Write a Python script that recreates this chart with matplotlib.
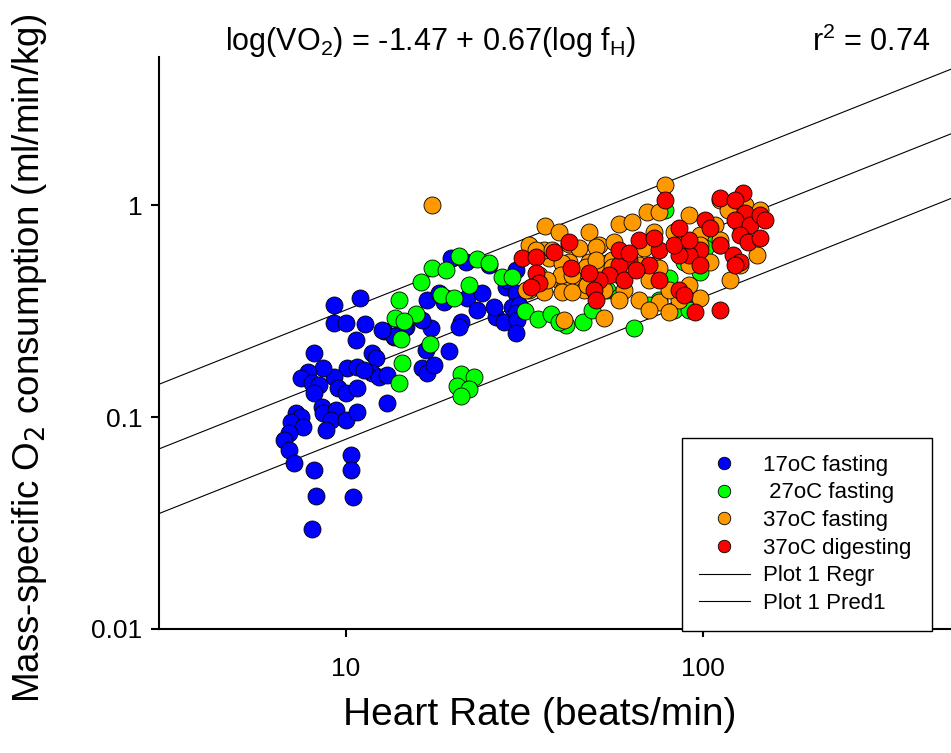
import matplotlib
matplotlib.use("Agg")
import matplotlib.pyplot as plt
from matplotlib.lines import Line2D
import numpy as np

plt.rcParams['font.family'] = ['Liberation Sans', 'DejaVu Sans']

# ---- data ----
blue_x = [9.26, 10.95, 9.26, 10.0, 11.3, 10.67, 8.13, 12.78, 13.64, 14.36, 14.75, 16.9, 18.24, 19.1,
          17.33, 16.79, 19.45, 21.04, 20.77, 21.88, 23.33, 24.1, 19.72, 21.73, 25.23, 26.38, 27.8, 28.14,
          11.83, 12.14, 11.83, 12.38, 13.03, 10.07, 10.74, 11.23, 9.26, 8.67, 7.87, 7.52, 8.03, 8.40,
          8.13, 9.55, 10.0, 10.74, 16.35, 16.9, 17.66, 13.03, 7.24, 7.52, 7.05, 7.62, 6.92, 6.70, 6.92,
          7.15, 8.57, 8.67, 9.37, 9.08, 8.79, 10.0, 10.74, 10.33, 10.33, 10.5, 8.13, 8.24, 8.03,
          30.0, 28.3, 30.0, 26.05, 29.25, 30.6, 30.0, 30.2, 30.0, 18.84, 16.35, 14.55, 13.64, 12.62]
blue_y = [0.338, 0.364, 0.278, 0.278, 0.275, 0.231, 0.200, 0.255, 0.238, 0.272, 0.266, 0.356, 0.385, 0.364,
          0.263, 0.207, 0.205, 0.281, 0.266, 0.364, 0.320, 0.385, 0.562, 0.538, 0.521, 0.296, 0.281, 0.410,
          0.200, 0.190, 0.161, 0.154, 0.158, 0.170, 0.172, 0.167, 0.154, 0.170, 0.163, 0.153, 0.145, 0.142,
          0.130, 0.137, 0.130, 0.137, 0.170, 0.161, 0.176, 0.116, 0.104, 0.100, 0.0947, 0.0897, 0.0841, 0.0780, 0.0699,
          0.0607, 0.111, 0.104, 0.108, 0.0968, 0.0868, 0.0968, 0.106, 0.0662, 0.0562, 0.042, 0.0562, 0.0424, 0.0296,
          0.494, 0.443, 0.385, 0.330, 0.330, 0.338, 0.310, 0.287, 0.249, 0.349, 0.287, 0.266, 0.241, 0.257]

green_x = [20.77, 23.33, 25.23, 17.45, 19.1, 16.25, 22.17, 27.4, 29.25, 18.48, 20.1, 14.09, 15.74, 13.73,
           14.55, 14.27, 17.22, 14.36, 14.09, 21.04, 22.9, 20.5, 22.17, 21.04, 31.8, 34.6, 37.7, 41.5,
           46.3, 64.4, 49.1, 54.1, 78.7, 106.0, 111.6, 101.4, 89.0, 98.1, 80.8, 73.3, 75.7, 83.4, 91.9,
           71.0, 58.4, 39.6]
green_y = [0.575, 0.556, 0.532, 0.505, 0.494, 0.433, 0.420, 0.457, 0.457, 0.376, 0.364, 0.356, 0.306, 0.293,
           0.284, 0.233, 0.221, 0.180, 0.145, 0.160, 0.154, 0.140, 0.136, 0.126, 0.316, 0.290, 0.306, 0.272,
           0.281, 0.263, 0.320, 0.397, 0.947, 0.684, 0.648, 0.627, 0.538, 0.483, 0.453, 0.521, 0.356, 0.320, 0.320,
           0.338, 0.368, 0.281]

orange_x = [17.45, 36.2, 39.6, 48.2, 58.4, 63.6, 70.1, 75.7, 78.7, 91.9, 111.6, 117.6, 131.2, 144.6,
            73.3, 83.4, 98.1, 108.1, 127.0, 51.4, 56.6, 60.4, 68.7, 86.1, 98.1, 32.6, 37.2, 42.3, 48.2,
            54.8, 66.5, 75.7, 91.9, 104.7, 111.6, 34.8, 39.6, 43.7, 51.4, 58.4, 71.0, 32.6, 36.0, 41.0,
            46.6, 53.1, 60.4, 36.0, 42.3, 45.1, 58.4, 66.5, 75.7, 86.1, 98.1, 53.1, 41.0, 71.0, 80.8,
            80.8, 91.9, 119.1, 127.0, 141.9, 34.2, 37.9, 50.4, 40.5, 40.2, 43.1, 47.2, 50.4, 55.8, 36.7,
            32.0, 40.5, 43.1, 47.5, 55.8]
orange_y = [1.0, 0.796, 0.746, 0.746, 0.814, 0.832, 0.927, 0.927, 1.243, 0.897, 1.056, 0.947, 1.0, 0.947,
            0.746, 0.746, 0.722, 0.805, 0.805, 0.648, 0.669, 0.581, 0.627, 0.648, 0.648, 0.648, 0.562, 0.538, 0.538,
            0.538, 0.521, 0.505, 0.521, 0.538, 0.684, 0.468, 0.443, 0.429, 0.494, 0.468, 0.443, 0.397, 0.389, 0.406,
            0.397, 0.397, 0.397, 0.614, 0.655, 0.627, 0.356, 0.356, 0.349, 0.356, 0.364, 0.293, 0.287, 0.320, 0.313,
            0.397, 0.420, 0.443, 0.521, 0.581, 0.614, 0.614, 0.634, 0.532, 0.468, 0.468, 0.510, 0.550, 0.550, 0.443,
            0.397, 0.389, 0.389, 0.420, 0.510]

red_x = [78.7, 111.6, 129.5, 123.0, 131.2, 123.0, 135.5, 144.6, 149.4, 127.0, 133.7, 144.6, 121.4, 127.0,
         123.0, 111.6, 98.1, 91.9, 98.1, 86.1, 75.7, 71.0, 66.5, 62.4, 58.4, 54.8, 51.4, 49.8, 50.4,
         58.4, 75.7, 83.4, 91.9, 101.4, 104.7, 86.1, 73.3, 95.0, 86.1, 89.0, 38.4, 42.3, 31.2, 34.2,
         34.2, 34.8, 33.1, 42.9, 48.2, 60.4, 62.4, 65.3, 111.6]
red_y = [1.056, 1.079, 1.139, 1.056, 0.917, 0.850, 0.805, 0.897, 0.850, 0.722, 0.669, 0.699, 0.581, 0.538,
         0.521, 0.648, 0.614, 0.581, 0.521, 0.581, 0.614, 0.521, 0.684, 0.550, 0.521, 0.468, 0.443, 0.397, 0.356,
         0.614, 0.443, 0.648, 0.684, 0.850, 0.779, 0.779, 0.699, 0.313, 0.397, 0.376, 0.600, 0.669, 0.562, 0.569,
         0.478, 0.429, 0.410, 0.505, 0.478, 0.443, 0.594, 0.494, 0.320]

series_labels = ['17oC fasting', ' 27oC fasting', '37oC fasting', '37oC digesting']
series_colors = ['#0000FF', '#00FF00', '#FF9900', '#FF0000']

reg_intercept = -1.47
reg_slope = 0.67
pred_offset = 0.305  # log units of prediction band
x_range = [3, 500]

# ---- figure ----
W, H = 951, 753
fig = plt.figure(figsize=(W / 100, H / 100), dpi=100)
ax = fig.add_axes([159 / W, 1 - 629 / H, 793 / W, (629 - 57) / H])
ax.set_xscale('log')
ax.set_yscale('log')
ax.set_xlim(*x_range)
ax.set_ylim(0.01, 5)

xs = np.logspace(np.log10(x_range[0]), np.log10(x_range[1]), 200)
ly = reg_intercept + reg_slope * np.log10(xs)
ax.plot(xs, 10 ** ly, color='black', lw=0.8, zorder=1)
ax.plot(xs, 10 ** (ly + pred_offset), color='black', lw=0.8, zorder=1)
ax.plot(xs, 10 ** (ly - pred_offset), color='black', lw=0.8, zorder=1)

for xv, yv, c in zip([blue_x, green_x, orange_x, red_x], [blue_y, green_y, orange_y, red_y], series_colors):
    ax.scatter(xv, yv, s=150, c=c, edgecolors='black', linewidths=0.6, zorder=3)

for s in ['top', 'right']:
    ax.spines[s].set_visible(False)
for s in ['left', 'bottom']:
    ax.spines[s].set_linewidth(1.5)

ax.set_xticks([10, 100])
ax.set_xticklabels(['10', '100'])
ax.set_yticks([0.01, 0.1, 1])
ax.set_yticklabels(['0.01', '0.1', '1'])
ax.minorticks_off()
ax.tick_params(axis='both', which='major', direction='out', length=6, width=1.5, labelsize=19, pad=6)
ax.tick_params(axis='x', pad=14)

fig.text(540 / W, 1 - 715 / H, 'Heart Rate (beats/min)', ha='center', va='center', fontsize=28)
fig.text(30 / W, 1 - 358 / H, r'Mass-specific O$_2$ consumption (ml/min/kg)', ha='center', va='center',
         rotation=90, fontsize=26.5)
fig.text(431 / W, 1 - 42 / H, r'log(V$\mathregular{O_2}$) = -1.47 + 0.67(log f$_\mathregular{H}$)',
         ha='center', va='center', fontsize=22)
fig.text(930 / W, 1 - 42 / H, r'r$^\mathregular{2}$ = 0.74', ha='right', va='center', fontsize=22)

handles = [Line2D([], [], ls='none', marker='o', markersize=9, markerfacecolor=c,
                  markeredgecolor='black', markeredgewidth=0.6) for c in series_colors]
handles += [Line2D([], [], color='black', lw=0.8), Line2D([], [], color='black', lw=0.8)]
labels = series_labels + ['Plot 1 Regr', 'Plot 1 Pred1']
leg = fig.legend(handles, labels, loc='upper left',
                 bbox_to_anchor=(682 / W, 1 - 633 / H, 250 / W, 195 / H), mode='expand',
                 fontsize=16, frameon=True, fancybox=False, edgecolor='black', framealpha=1,
                 borderaxespad=0, labelspacing=0.3, handlelength=2.3, handletextpad=0.6,
                 borderpad=0.75)
leg.get_frame().set_linewidth(1.0)

fig.savefig('out.png', dpi=100)
